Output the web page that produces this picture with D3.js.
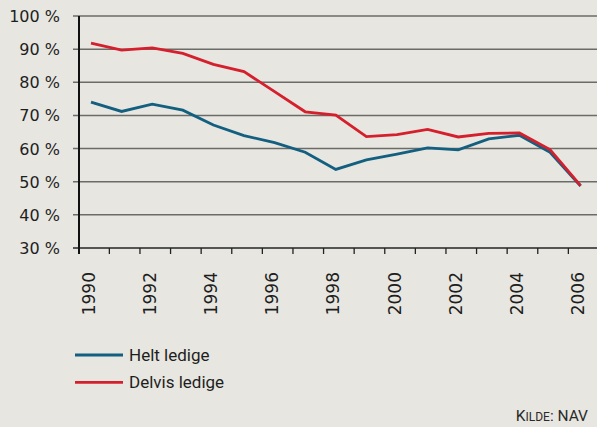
<!DOCTYPE html>
<html>
<head>
<meta charset="utf-8">
<script src="https://cdn.jsdelivr.net/npm/d3@7"></script>
<style>
  html, body { margin: 0; padding: 0; background: #e7e6e0; }
  svg { display: block; }
</style>
</head>
<body>
<div id="chart"></div>
<script>
// Share (%) per year
const years = [1990, 1991, 1992, 1993, 1994, 1995, 1996, 1997, 1998, 1999, 2000, 2001, 2002, 2003, 2004, 2005, 2006]
const heltLedige = [74.0, 71.2, 73.4, 71.6, 67.1, 63.9, 61.8, 58.9, 53.7, 56.6, 58.3, 60.2, 59.6, 62.9, 64.0, 58.9, 48.7]
const delvisLedige = [91.8, 89.7, 90.4, 88.7, 85.4, 83.2, 77.2, 71.1, 70.1, 63.6, 64.2, 65.8, 63.5, 64.6, 64.7, 59.7, 48.8]
const yTicks = [30, 40, 50, 60, 70, 80, 90, 100]
const labelYears = [1990, 1992, 1994, 1996, 1998, 2000, 2002, 2004, 2006]
const seriesNames = ['Helt ledige', 'Delvis ledige']

const W = 597, H = 427
const blue = '#125f80', red = '#d51f2d'

const svg = d3.select('#chart').append('svg')
  .attr('width', W).attr('height', H)

svg.append('rect').attr('width', W).attr('height', H).attr('fill', '#e7e6e0')

const axisX = 79
const x = d3.scaleLinear().domain([1990, 2006]).range([91, 580.6])
const y = d3.scaleLinear().domain([30, 100]).range([248, 16])

// gridlines (with small left ticks)
svg.append('g')
  .selectAll('line')
  .data(yTicks.filter(d => d !== 30))
  .join('line')
  .attr('x1', axisX - 6).attr('x2', W)
  .attr('y1', d => y(d)).attr('y2', d => y(d))
  .attr('stroke', '#6b6b68').attr('stroke-width', 1.5)

// y labels
svg.append('g')
  .selectAll('text')
  .data(yTicks)
  .join('text')
  .attr('x', 60).attr('y', d => y(d) + 6)
  .attr('text-anchor', 'end')
  .attr('font-family', 'DejaVu Sans, sans-serif')
  .attr('font-size', 16)
  .attr('fill', '#1e1e1e')
  .text(d => d + ' %')

// x axis baseline
svg.append('line')
  .attr('x1', axisX - 6).attr('x2', W)
  .attr('y1', y(30)).attr('y2', y(30))
  .attr('stroke', '#555').attr('stroke-width', 2)

// x ticks (between years)
svg.append('g')
  .selectAll('line')
  .data(years.slice(1))
  .join('line')
  .attr('x1', d => x(d - 0.4)).attr('x2', d => x(d - 0.4))
  .attr('y1', y(30)).attr('y2', y(30) + 6)
  .attr('stroke', '#222').attr('stroke-width', 1.3)

// y axis
svg.append('line')
  .attr('x1', axisX).attr('x2', axisX)
  .attr('y1', y(100)).attr('y2', y(30) + 6)
  .attr('stroke', '#111').attr('stroke-width', 2)

// x labels, rotated
svg.append('g')
  .selectAll('text')
  .data(labelYears)
  .join('text')
  .attr('transform', d => `translate(${x(d) + 3.5},272) rotate(-90)`)
  .attr('text-anchor', 'end')
  .attr('font-family', 'DejaVu Sans, sans-serif')
  .attr('font-size', 17)
  .attr('fill', '#1e1e1e')
  .text(d => d)

// lines
const line = d3.line()
  .x((d, i) => x(years[i]))
  .y(d => y(d))

svg.append('path')
  .datum(heltLedige)
  .attr('d', line)
  .attr('fill', 'none')
  .attr('stroke', blue).attr('stroke-width', 2.8)
  .attr('stroke-linejoin', 'miter')

svg.append('path')
  .datum(delvisLedige)
  .attr('d', line)
  .attr('fill', 'none')
  .attr('stroke', red).attr('stroke-width', 2.8)
  .attr('stroke-linejoin', 'miter')

// legend
const legend = svg.append('g')
  .selectAll('g')
  .data(seriesNames)
  .join('g')
  .attr('transform', (d, i) => `translate(75,${355 + i * 27.3})`)

legend.append('line')
  .attr('x1', 0).attr('x2', 48)
  .attr('stroke', (d, i) => i === 0 ? blue : red)
  .attr('stroke-width', 2.8)

legend.append('text')
  .attr('x', 54).attr('y', 6)
  .attr('font-family', 'Roboto, sans-serif')
  .attr('font-size', 17)
  .attr('fill', '#1e1e1e')
  .text(d => d)

// source
const src = svg.append('text')
  .attr('x', 588).attr('y', 421)
  .attr('text-anchor', 'end')
  .attr('font-family', 'Roboto, sans-serif')
  .attr('font-size', 15.5)
  .attr('fill', '#2a2a2a')
src.append('tspan').text('K')
src.append('tspan').attr('font-size', 12).text('ILDE')
src.append('tspan').text(': NAV')
</script>
</body>
</html>
